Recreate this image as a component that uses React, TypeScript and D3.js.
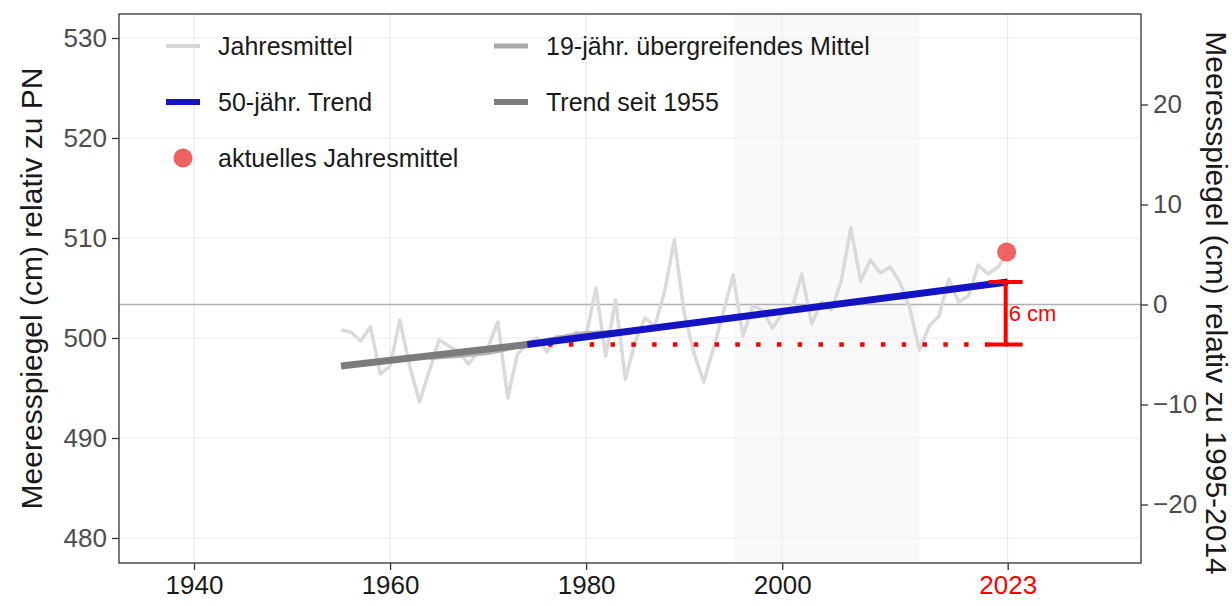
import { useEffect, useRef } from "react";
import * as d3 from "d3";

// Jahresmittel (annual mean), cm relative to PN
const years = [
  1955, 1956, 1957, 1958, 1959, 1960, 1961, 1962, 1963, 1964,
  1965, 1966, 1967, 1968, 1969, 1970, 1971, 1972, 1973, 1974,
  1975, 1976, 1977, 1978, 1979, 1980, 1981, 1982, 1983, 1984,
  1985, 1986, 1987, 1988, 1989, 1990, 1991, 1992, 1993, 1994,
  1995, 1996, 1997, 1998, 1999, 2000, 2001, 2002, 2003, 2004,
  2005, 2006, 2007, 2008, 2009, 2010, 2011, 2012, 2013, 2014,
  2015, 2016, 2017, 2018, 2019, 2020, 2021, 2022, 2023,
];
const annualMean = [
  500.8, 500.6, 499.7, 501.1, 496.4, 497.2, 501.8, 497.2, 493.6, 496.7,
  499.8, 499.2, 498.6, 497.4, 498.6, 499.1, 501.6, 494.0, 498.4, 499.4,
  500.0, 498.6, 500.2, 499.6, 500.6, 500.2, 505.0, 498.2, 503.8, 495.9,
  499.6, 502.0, 501.2, 504.6, 509.8, 502.5, 498.5, 495.6, 499.0, 502.6,
  506.3, 500.2, 503.2, 502.8, 501.0, 502.4, 503.0, 506.4, 501.4, 503.6,
  502.8, 505.6, 511.0, 505.7, 507.8, 506.5, 507.1, 505.6, 503.0, 498.8,
  501.2, 502.2, 505.9, 503.6, 504.2, 507.3, 506.4, 507.1, 508.6,
];

// 19-jähr. übergreifendes Mittel
const runningYears = [1964, 1967, 1970, 1972, 1975, 1978, 1980, 1983, 1986, 1990, 1994, 1998, 2002, 2006, 2010, 2013];
const runningMean = [498.0, 498.2, 498.5, 498.9, 499.6, 500.2, 500.5, 500.6, 500.9, 501.4, 501.9, 502.4, 502.9, 503.4, 503.9, 504.2];

// trends
const trend1955Years = [1955, 1974];
const trend1955Values = [497.2, 499.35];
const trend50Years = [1974, 2023];
const trend50Values = [499.35, 505.6];

const currentYear = 2023;
const currentValue = 508.6;
const riseLabel = "6 cm";

const refPeriod = [1995, 2014];
const refOffset = 503.35;

const xTicks = [1940, 1960, 1980, 2000, 2023];
const leftTicks = [480, 490, 500, 510, 520, 530];
const rightTicks = [-20, -10, 0, 10, 20];

const legendItems = [
  { label: "Jahresmittel", kind: "line", color: "#d6d6d6", w: 4, col: 0, row: 0 },
  { label: "19-jähr. übergreifendes Mittel", kind: "line", color: "#a9a9a9", w: 5, col: 1, row: 0 },
  { label: "50-jähr. Trend", kind: "line", color: "#1414c4", w: 6, col: 0, row: 1 },
  { label: "Trend seit 1955", kind: "line", color: "#7c7c7c", w: 6, col: 1, row: 1 },
  { label: "aktuelles Jahresmittel", kind: "point", color: "#f05050", w: 0, col: 0, row: 2 },
];

const font = "'Liberation Sans', Arial, Helvetica, sans-serif";

function App() {
  const svgRef = useRef<SVGSVGElement>(null);
  const width = 1232, height = 606;
  const panel = { left: 119, right: 1141, top: 14, bottom: 563 };

  useEffect(() => {
    const svg = d3.select(svgRef.current);
    svg.selectAll("*").remove();

    const x = d3.scaleLinear().domain([1932.35, 2036.6]).range([panel.left, panel.right]);
    const y = d3.scaleLinear().domain([477.5, 532.4]).range([panel.bottom, panel.top]);

    svg.append("rect").attr("width", width).attr("height", height).attr("fill", "#fff");

    // grid
    const grid = svg.append("g");
    grid.selectAll("line.h").data(leftTicks).enter().append("line")
      .attr("x1", panel.left).attr("x2", panel.right)
      .attr("y1", (d) => y(d)).attr("y2", (d) => y(d))
      .attr("stroke", "#ebebeb").attr("stroke-width", 1.2);
    grid.selectAll("line.v").data(xTicks).enter().append("line")
      .attr("y1", panel.top).attr("y2", panel.bottom)
      .attr("x1", (d) => x(d)).attr("x2", (d) => x(d))
      .attr("stroke", "#ebebeb").attr("stroke-width", 1.2);

    // reference period band
    svg.append("rect")
      .attr("x", x(refPeriod[0])).attr("width", x(refPeriod[1]) - x(refPeriod[0]))
      .attr("y", panel.top).attr("height", panel.bottom - panel.top)
      .attr("fill", "#f0f0f0").attr("opacity", 0.38);

    // reference zero line
    svg.append("line")
      .attr("x1", panel.left).attr("x2", panel.right)
      .attr("y1", y(refOffset)).attr("y2", y(refOffset))
      .attr("stroke", "#b0b0b0").attr("stroke-width", 1.6);

    const line = d3.line<[number, number]>().x((d) => x(d[0])).y((d) => y(d[1]));

    svg.append("path")
      .attr("d", line(years.map((yr, i) => [yr, annualMean[i]])))
      .attr("fill", "none").attr("stroke", "#dadada").attr("stroke-width", 3.5)
      .attr("stroke-linejoin", "round");

    svg.append("path")
      .attr("d", line(runningYears.map((yr, i) => [yr, runningMean[i]])))
      .attr("fill", "none").attr("stroke", "#b4b4b4").attr("stroke-width", 4)
      .attr("stroke-linejoin", "round");

    svg.append("path")
      .attr("d", line(trend1955Years.map((yr, i) => [yr, trend1955Values[i]])))
      .attr("fill", "none").attr("stroke", "#7c7c7c").attr("stroke-width", 7);

    // dotted baseline
    svg.append("line")
      .attr("x1", x(trend50Years[0])).attr("x2", x(trend50Years[1]))
      .attr("y1", y(trend50Values[0])).attr("y2", y(trend50Values[0]))
      .attr("stroke", "#ff0000").attr("stroke-width", 4.5)
      .attr("stroke-dasharray", "4.5 16.3");

    svg.append("path")
      .attr("d", line(trend50Years.map((yr, i) => [yr, trend50Values[i]])))
      .attr("fill", "none").attr("stroke", "#1414c4").attr("stroke-width", 7);

    // bracket
    const bx = x(currentYear) - 2;
    const b = svg.append("g").attr("stroke", "#ff0000").attr("stroke-width", 4);
    b.append("line").attr("x1", bx).attr("x2", bx).attr("y1", y(trend50Values[1])).attr("y2", y(trend50Values[0]));
    b.append("line").attr("x1", bx - 17).attr("x2", bx + 17).attr("y1", y(trend50Values[1])).attr("y2", y(trend50Values[1]));
    b.append("line").attr("x1", bx - 17).attr("x2", bx + 17).attr("y1", y(trend50Values[0])).attr("y2", y(trend50Values[0]));
    svg.append("text")
      .attr("x", bx + 3).attr("y", (y(trend50Values[0]) + y(trend50Values[1])) / 2 + 8)
      .attr("fill", "#ff0000").attr("font-family", font).attr("font-size", 22)
      .text(riseLabel);

    svg.append("circle")
      .attr("cx", x(currentYear) - 1).attr("cy", y(currentValue)).attr("r", 9.5)
      .attr("fill", "#f04848").attr("opacity", 0.85);

    // legend
    const colX = [166, 494];
    const rowY = [46, 102, 158];
    legendItems.forEach((it) => {
      const lx = colX[it.col], ly = rowY[it.row];
      if (it.kind === "line") {
        svg.append("line").attr("x1", lx).attr("x2", lx + 34).attr("y1", ly).attr("y2", ly)
          .attr("stroke", it.color).attr("stroke-width", it.w);
      } else {
        svg.append("circle").attr("cx", lx + 17).attr("cy", ly).attr("r", 9.5)
          .attr("fill", it.color).attr("opacity", 0.9);
      }
      svg.append("text").attr("x", lx + 52).attr("y", ly + 9)
        .attr("font-family", font).attr("font-size", 25).attr("fill", "#1a1a1a")
        .text(it.label);
    });

    // panel border
    svg.append("rect")
      .attr("x", panel.left).attr("y", panel.top)
      .attr("width", panel.right - panel.left).attr("height", panel.bottom - panel.top)
      .attr("fill", "none").attr("stroke", "#333").attr("stroke-width", 1.3);

    // axes
    const styleAxis = (g: any) => {
      g.select(".domain").remove();
      g.selectAll(".tick line").attr("stroke", "#333").attr("stroke-width", 1.3);
      g.selectAll(".tick text").attr("fill", "#4d4d4d").attr("font-family", font).attr("font-size", 26);
    };

    svg.append("g")
      .attr("transform", `translate(${panel.left},0)`)
      .call(d3.axisLeft(y).tickValues(leftTicks).tickSize(7).tickPadding(5).tickFormat(d3.format("d")))
      .call(styleAxis);

    const yRight = d3.scaleLinear().domain(y.domain().map((v) => v - refOffset)).range(y.range());
    svg.append("g")
      .attr("transform", `translate(${panel.right},0)`)
      .call(d3.axisRight(yRight).tickValues(rightTicks).tickSize(7).tickPadding(5).tickFormat(d3.format("d")))
      .call(styleAxis);

    svg.append("g")
      .attr("transform", `translate(0,${panel.bottom})`)
      .call(d3.axisBottom(x).tickValues(xTicks).tickSize(7).tickPadding(6).tickFormat(d3.format("d")))
      .call(styleAxis)
      .selectAll(".tick text")
      .attr("fill", (d: any) => (d === currentYear ? "#ff0000" : "#1a1a1a"));

    // axis titles
    const cy = (panel.top + panel.bottom) / 2;
    svg.append("text")
      .attr("transform", `translate(42,${cy}) rotate(-90)`)
      .attr("text-anchor", "middle").attr("font-family", font).attr("font-size", 30)
      .attr("fill", "#1a1a1a")
      .text("Meeresspiegel (cm) relativ zu PN");
    svg.append("text")
      .attr("transform", `translate(1206,303) rotate(90)`)
      .attr("text-anchor", "middle").attr("font-family", font).attr("font-size", 30)
      .attr("fill", "#1a1a1a")
      .text("Meeresspiegel (cm) relativ zu 1995-2014");
  }, []);

  return (
    <div style={{ position: "absolute", left: 0, top: 0 }}>
      <svg ref={svgRef} width={width} height={height} style={{ display: "block" }}></svg>
    </div>
  );
}

export default App;
